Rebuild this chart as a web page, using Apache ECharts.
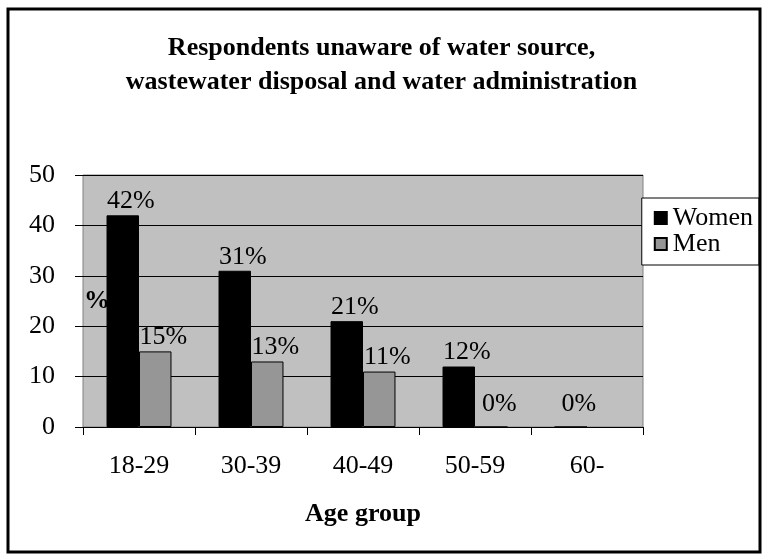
<!DOCTYPE html>
<html>
<head>
<meta charset="utf-8">
<script src="https://cdn.jsdelivr.net/npm/echarts@6/dist/echarts.min.js"></script>
<style>
  html, body { margin: 0; padding: 0; background: #fff; }
  #chart { width: 763px; height: 556px; }
</style>
</head>
<body>
<div id="chart"></div>
<script>
const titleText = 'Respondents unaware of water source,\nwastewater disposal and water administration'
const ageGroups = ['18-29', '30-39', '40-49', '50-59', '60-']
const women = [42, 31, 21, 12, 0]
const men = [15, 13, 11, 0, null]
const yTicks = [0, 10, 20, 30, 40, 50]

const serif = '"Liberation Serif", "DejaVu Serif", serif'

const chart = echarts.init(document.getElementById('chart'))

// zero bars get their label a bit higher, as in the original
const labelFor = (v) => ({
  show: true,
  position: 'top',
  distance: v === 0 ? 9 : 1,
  offset: [8, 0],
  formatter: '{c}%',
  color: '#000',
  fontFamily: serif,
  fontSize: 26,
})

const option = {
  animation: false,
  backgroundColor: '#fff',
  textStyle: { fontFamily: serif },
  title: {
    text: titleText,
    left: 'center',
    top: 26,
    textStyle: {
      fontFamily: serif,
      fontWeight: 'bold',
      fontSize: 26,
      lineHeight: 34,
      color: '#000',
    },
  },
  legend: {
    right: 4,
    top: 198,
    orient: 'vertical',
    align: 'left',
    itemWidth: 12,
    itemHeight: 12,
    itemGap: 0,
    padding: [7, 6, 8, 12],
    backgroundColor: '#fff',
    borderColor: '#000',
    borderWidth: 1,
    borderRadius: 0,
    textStyle: { fontFamily: serif, fontSize: 26, color: '#000', padding: [0, 0, 0, 1] },
    data: [
      { name: 'Women', icon: 'rect' },
      { name: 'Men', icon: 'rect' },
    ],
  },
  grid: {
    left: 83,
    top: 175,
    right: 120,
    bottom: 129,
    show: true,
    backgroundColor: '#C0C0C0',
    borderColor: '#808080',
    borderWidth: 1,
  },
  xAxis: {
    type: 'category',
    data: ageGroups,
    name: 'Age group',
    nameLocation: 'middle',
    nameGap: 74,
    nameMoveOverlap: false,
    nameTextStyle: { fontFamily: serif, fontWeight: 'bold', fontSize: 26, color: '#000' },
    axisLine: { show: true, lineStyle: { color: '#000', width: 1 } },
    axisTick: { show: true, length: 8, lineStyle: { color: '#000' } },
    axisLabel: { color: '#000', fontFamily: serif, fontSize: 26, margin: 26 },
  },
  yAxis: {
    type: 'value',
    min: yTicks[0],
    max: yTicks[yTicks.length - 1],
    interval: 10,
    name: '%',
    nameLocation: 'middle',
    nameGap: -27,
    nameRotate: 0,
    nameMoveOverlap: false,
    nameTextStyle: { fontFamily: serif, fontWeight: 'bold', fontSize: 26, color: '#000' },
    axisLine: { show: false },
    axisTick: { show: true, length: 8, lineStyle: { color: '#000' } },
    axisLabel: { color: '#000', fontFamily: serif, fontSize: 26, margin: 28 },
    splitLine: { show: true, lineStyle: { color: '#000', width: 1 } },
  },
  series: [
    {
      name: 'Women',
      type: 'bar',
      barGap: '0%',
      barCategoryGap: '42%',
      data: women.map(v => ({ value: v, label: labelFor(v) })),
      itemStyle: { color: '#000', borderColor: '#000', borderWidth: 1 },
    },
    {
      name: 'Men',
      type: 'bar',
      data: men.map(v => ({ value: v, label: labelFor(v) })),
      itemStyle: { color: '#969696', borderColor: '#000', borderWidth: 1 },
    },
  ],
  graphic: [
    {
      type: 'rect',
      shape: { x: 8, y: 9, width: 752, height: 543 },
      style: { fill: 'none', stroke: '#000', lineWidth: 3 },
      z: 100,
    },
  ],
}

chart.setOption(option)
</script>
</body>
</html>
